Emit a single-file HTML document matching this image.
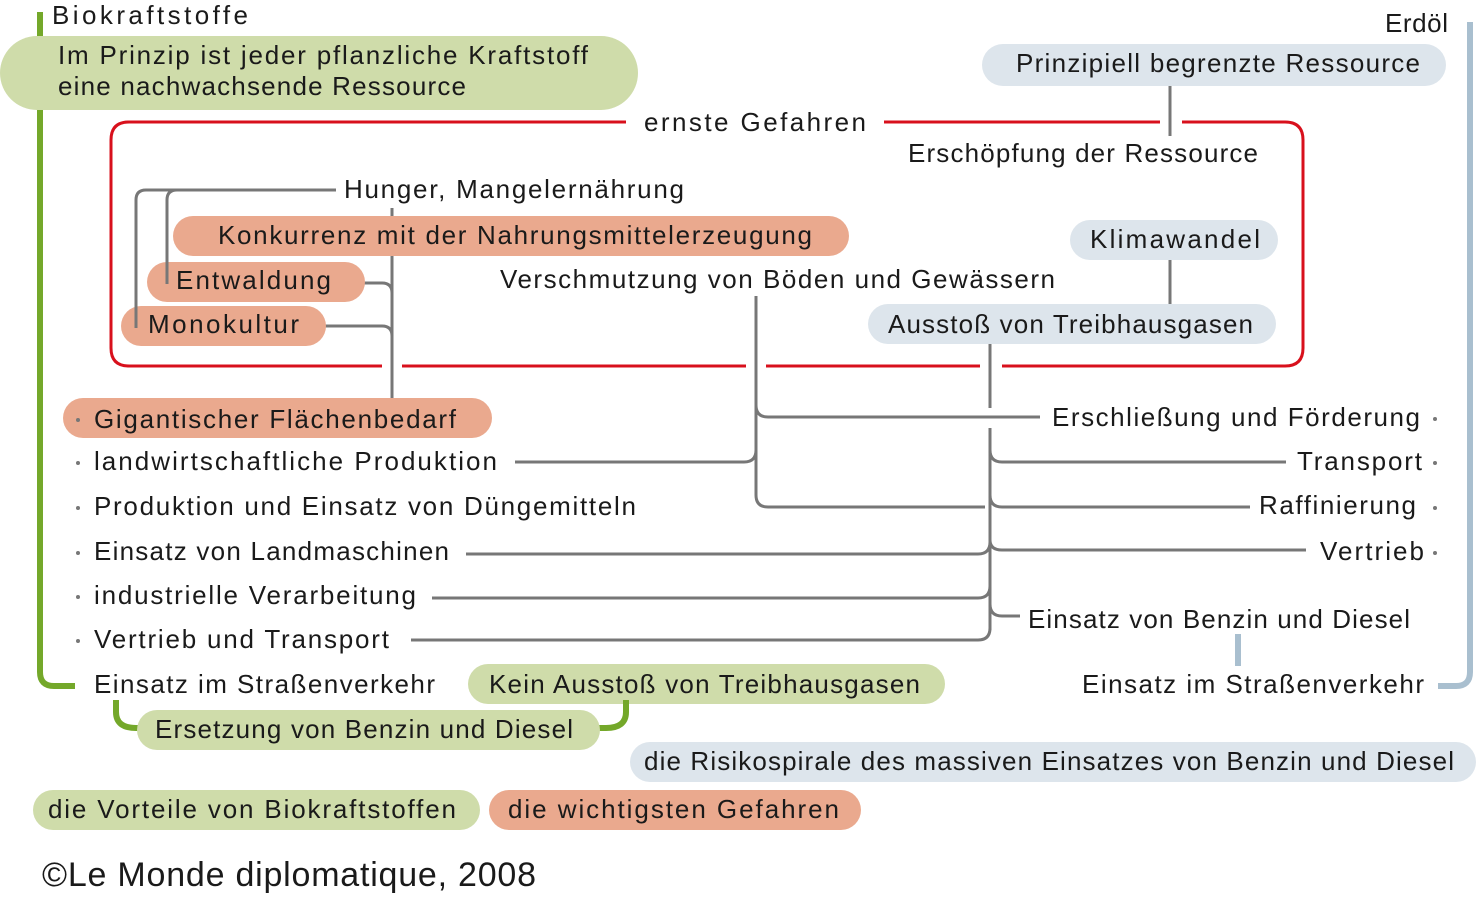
<!DOCTYPE html>
<html><head><meta charset="utf-8"><style>
html,body{margin:0;padding:0;background:#fff;}
svg text{font-family:"Liberation Sans","DejaVu Sans",sans-serif;font-size:26px;fill:#1a1a1a;}
</style></head><body>
<svg width="1477" height="896" viewBox="0 0 1477 896" xmlns="http://www.w3.org/2000/svg">
<path d="M40 12 V672 Q40 686 54 686 H75" fill="none" stroke="#74a82a" stroke-width="6"/>
<path d="M1470 22 V672 Q1470 686 1456 686 H1438" fill="none" stroke="#a9bfcf" stroke-width="6"/>
<g fill="none" stroke="#d8101c" stroke-width="3">
<path d="M626 122 H129 Q111 122 111 140 V348 Q111 366 129 366 H382"/>
<path d="M402 366 H746"/><path d="M766 366 H980"/>
<path d="M1002 366 H1285 Q1303 366 1303 348 V140 Q1303 122 1285 122 H1182"/>
<path d="M1160 122 H884"/>
</g>
<rect x="0" y="36" width="638" height="74" rx="37" fill="#cfdcaa"/>
<rect x="982" y="44" width="464" height="42" rx="21" fill="#dde5ec"/>
<line x1="1170" y1="86" x2="1170" y2="136" stroke="#777" stroke-width="3"/>
<g fill="none" stroke="#777" stroke-width="3">
<path d="M336 190 H177 Q167 190 167 200 V284"/>
<path d="M336 190 H146 Q136 190 136 200 V328"/>
<line x1="392" y1="208" x2="392" y2="400"/>
<path d="M355 283 H382 Q392 283 392 293"/>
<path d="M314 326 H382 Q392 326 392 336"/>
<path d="M756 296 V405 Q756 417 768 417 H1040"/>
<path d="M756 400 V495 Q756 507 768 507 H985"/>
<path d="M515 462 H744 Q756 462 756 450"/>
<line x1="990" y1="340" x2="990" y2="408"/>
<path d="M990 428 V630"/>
<path d="M990 450 Q990 462 1002 462 H1286"/>
<path d="M990 495 Q990 507 1002 507 H1250"/>
<path d="M990 540 Q990 550 1002 550 H1306"/>
<path d="M990 604 Q990 616 1002 616 H1020"/>
<path d="M466 554 H978 Q990 554 990 542"/>
<path d="M432 598 H978 Q990 598 990 586"/>
<path d="M411 640 H978 Q990 640 990 628"/>
</g>
<rect x="173" y="216" width="676" height="40" rx="20" fill="#eaa98e"/>
<rect x="1070" y="220" width="208" height="40" rx="20" fill="#dde5ec"/>
<line x1="1170" y1="260" x2="1170" y2="306" stroke="#777" stroke-width="3"/>
<rect x="147" y="262" width="218" height="40" rx="20" fill="#eaa98e"/>
<rect x="121" y="306" width="205" height="40" rx="20" fill="#eaa98e"/>
<rect x="868" y="304" width="408" height="40" rx="20" fill="#dde5ec"/>
<rect x="63" y="398" width="429" height="40" rx="20" fill="#eaa98e"/>
<path d="M167 262 V284" stroke="#777" stroke-width="3"/>
<path d="M136 306 V328" stroke="#777" stroke-width="3"/>
<rect x="468" y="664" width="477" height="40" rx="20" fill="#cfdcaa"/>
<path d="M116 700 V712 Q116 728 136 728 H145" fill="none" stroke="#74a82a" stroke-width="6"/>
<path d="M626 700 V712 Q626 728 606 728 H596" fill="none" stroke="#74a82a" stroke-width="6"/>
<rect x="137" y="710" width="463" height="40" rx="20" fill="#cfdcaa"/>
<line x1="1238" y1="634" x2="1238" y2="666" stroke="#a9bfcf" stroke-width="6"/>
<rect x="630" y="742" width="846" height="40" rx="20" fill="#dde5ec"/>
<rect x="33" y="790" width="447" height="40" rx="20" fill="#cfdcaa"/>
<rect x="489" y="790" width="372" height="40" rx="20" fill="#eaa98e"/>
<g>
<text x="52" y="24" textLength="196" lengthAdjust="spacing">Biokraftstoffe</text>
<text x="1385" y="32" textLength="63" lengthAdjust="spacing">Erdöl</text>
<text x="58" y="64" textLength="530" lengthAdjust="spacing">Im Prinzip ist jeder pflanzliche Kraftstoff</text>
<text x="58" y="95" textLength="408" lengthAdjust="spacing">eine nachwachsende Ressource</text>
<text x="1016" y="72" textLength="404" lengthAdjust="spacing">Prinzipiell begrenzte Ressource</text>
<text x="644" y="131" textLength="222" lengthAdjust="spacing">ernste Gefahren</text>
<text x="908" y="162" textLength="350" lengthAdjust="spacing">Erschöpfung der Ressource</text>
<text x="344" y="198" textLength="340" lengthAdjust="spacing">Hunger, Mangelernährung</text>
<text x="218" y="244" textLength="594" lengthAdjust="spacing">Konkurrenz mit der Nahrungsmittelerzeugung</text>
<text x="1090" y="248" textLength="170" lengthAdjust="spacing">Klimawandel</text>
<text x="176" y="289" textLength="155" lengthAdjust="spacing">Entwaldung</text>
<text x="500" y="288" textLength="555" lengthAdjust="spacing">Verschmutzung von Böden und Gewässern</text>
<text x="148" y="333" textLength="151" lengthAdjust="spacing">Monokultur</text>
<text x="888" y="333" textLength="365" lengthAdjust="spacing">Ausstoß von Treibhausgasen</text>
<text x="94" y="428" textLength="362" lengthAdjust="spacing">Gigantischer Flächenbedarf</text>
<text x="94" y="470" textLength="403" lengthAdjust="spacing">landwirtschaftliche Produktion</text>
<text x="94" y="515" textLength="542" lengthAdjust="spacing">Produktion und Einsatz von Düngemitteln</text>
<text x="94" y="560" textLength="355" lengthAdjust="spacing">Einsatz von Landmaschinen</text>
<text x="94" y="604" textLength="322" lengthAdjust="spacing">industrielle Verarbeitung</text>
<text x="94" y="648" textLength="295" lengthAdjust="spacing">Vertrieb und Transport</text>
<text x="94" y="693" textLength="341" lengthAdjust="spacing">Einsatz im Straßenverkehr</text>
<text x="1052" y="426" textLength="368" lengthAdjust="spacing">Erschließung und Förderung</text>
<text x="1297" y="470" textLength="125" lengthAdjust="spacing">Transport</text>
<text x="1259" y="514" textLength="157" lengthAdjust="spacing">Raffinierung</text>
<text x="1320" y="560" textLength="104" lengthAdjust="spacing">Vertrieb</text>
<text x="1028" y="628" textLength="382" lengthAdjust="spacing">Einsatz von Benzin und Diesel</text>
<text x="1082" y="693" textLength="342" lengthAdjust="spacing">Einsatz im Straßenverkehr</text>
<text x="489" y="693" textLength="431" lengthAdjust="spacing">Kein Ausstoß von Treibhausgasen</text>
<text x="155" y="738" textLength="418" lengthAdjust="spacing">Ersetzung von Benzin und Diesel</text>
<text x="644" y="770" textLength="810" lengthAdjust="spacing">die Risikospirale des massiven Einsatzes von Benzin und Diesel</text>
<text x="48" y="818" textLength="408" lengthAdjust="spacing">die Vorteile von Biokraftstoffen</text>
<text x="508" y="818" textLength="331" lengthAdjust="spacing">die wichtigsten Gefahren</text>
<text x="42" y="886" style="font-size:34px" textLength="494" lengthAdjust="spacing">©Le Monde diplomatique, 2008</text>
</g>
<g fill="#777"><circle cx="78" cy="420" r="2"/><circle cx="78" cy="463" r="2"/><circle cx="78" cy="508" r="2"/><circle cx="78" cy="553" r="2"/><circle cx="78" cy="597" r="2"/><circle cx="78" cy="641" r="2"/>
<circle cx="1435" cy="419" r="2"/><circle cx="1435" cy="463" r="2"/><circle cx="1435" cy="508" r="2"/><circle cx="1435" cy="553" r="2"/></g>
</svg>
</body></html>
